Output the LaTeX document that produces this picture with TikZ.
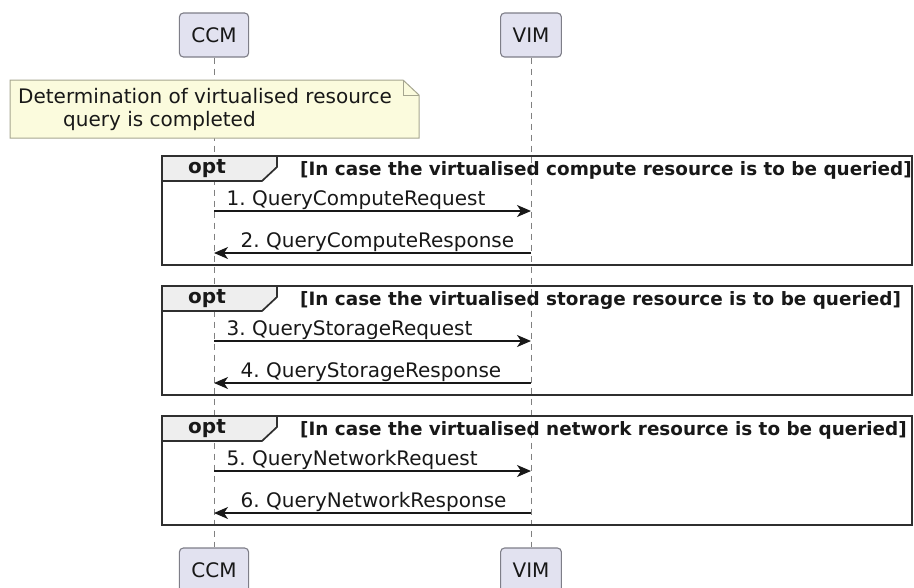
\documentclass[tikz,border=0pt]{standalone}
\usepackage{fontspec}
\setmainfont{DejaVu Sans}
\usetikzlibrary{arrows.meta}
\frenchspacing

\definecolor{partfill}{HTML}{E2E2F0}
\definecolor{partdraw}{HTML}{7E7E88}
\definecolor{notefill}{HTML}{FBFBDD}
\definecolor{notedraw}{HTML}{A6A690}
\definecolor{tabfill}{HTML}{EEEEEE}
\definecolor{ink}{HTML}{181818}

\tikzset{
  participant/.style={draw=partdraw, fill=partfill, rounded corners=4pt, line width=1.1pt,
    minimum height=44pt, inner xsep=12pt, text=ink, font=\fontsize{20}{24}\selectfont},
  lifeline/.style={draw=gray, line width=0.9pt, dash pattern=on 6pt off 5pt},
  msg/.style={draw=ink, line width=1.4pt, -{Stealth[length=14pt, width=12pt, inset=4pt]}},
  msglabel/.style={text=ink, inner sep=0pt, anchor=base west, font=\fontsize{20}{24}\selectfont},
  frame/.style={draw=ink!90, line width=2.8pt},
  tab/.style={draw=ink!90, line width=1.7pt, fill=tabfill},
  optlabel/.style={text=ink, inner sep=0pt, font=\fontsize{20}{24}\selectfont\bfseries},
  guard/.style={text=ink, inner sep=0pt, anchor=west, font=\fontsize{18.4}{22}\selectfont\bfseries}
}

\begin{document}
\begin{tikzpicture}[x=1pt, y=-1pt]
      \useasboundingbox (0,0) rectangle (914,587);

      \node [participant] (ccmtop) at (214,35) {CCM};
      \node [participant] (vimtop) at (531,35) {VIM};
      \node [participant] (ccmbot) at (214,570) {CCM};
      \node [participant] (vimbot) at (531,570) {VIM};
      \draw [lifeline] (ccmtop.south) -- (ccmbot.north);
      \draw [lifeline] (vimtop.south) -- (vimbot.north);

      \draw [draw=notedraw, fill=notefill, line width=1pt]
            (10,80) -- (403,80) -- (419,95) -- (419,138) -- (10,138) -- cycle;
      \draw [draw=notedraw, line width=1pt] (403,80) -- (403,95) -- (419,95);
      \node [anchor=west, align=left, inner sep=0pt, text=ink, font=\fontsize{20}{23}\selectfont]
            (note) at (18,109) {Determination of virtualised resource\\\hspace*{45pt}query is completed};

      \foreach \fy/\what/\What/\n in {156/compute/Compute/1, 286/storage/Storage/3, 416/network/Network/5}
               {
                 \pgfmathtruncatemacro{\m}{\n+1}
                 \draw [frame] (162,\fy) rectangle (912,\fy+109);
                 \draw [tab] (162,\fy) -- (277,\fy) -- (277,\fy+11) -- (262,\fy+25) -- (162,\fy+25) -- cycle;
                 \node [optlabel] (opt\n) at (207,\fy+13) {opt};
                 \node [guard] (guard\n) at (300,\fy+14) {[In case the virtualised \what\ resource is to be queried]};
                 \coordinate (ccm\n) at (ccmtop.south |- 0,\fy+55);
                 \coordinate (vim\n) at (vimtop.south |- 0,\fy+55);
                 \coordinate (ccm\m) at (ccmtop.south |- 0,\fy+97);
                 \coordinate (vim\m) at (vimtop.south |- 0,\fy+97);
                 \draw [msg] (ccm\n) -- node [msglabel, pos=0, xshift=12pt, yshift=6pt] {\n. Query\What Request} (vim\n);
                 \draw [msg] (vim\m) -- node [msglabel, pos=1, xshift=26pt, yshift=6pt] {\m. Query\What Response} (ccm\m);
               }
    \end{tikzpicture}
\end{document}
